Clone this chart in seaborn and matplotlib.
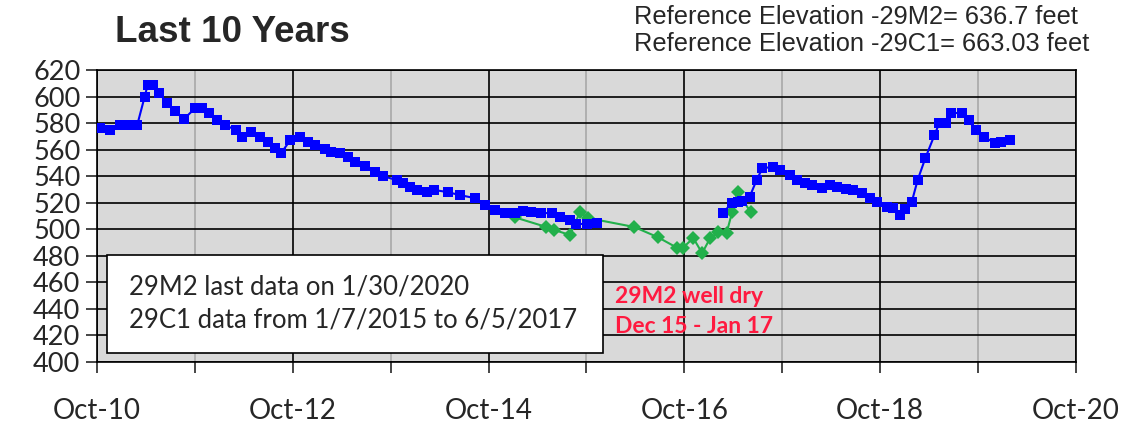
import pandas as pd
import numpy as np
import seaborn as sns
import matplotlib
matplotlib.use('Agg')
import matplotlib.pyplot as plt
import matplotlib.dates as mdates
from matplotlib.patches import Rectangle

# Well 29M2 readings (feet), gap while the well was dry
m2_dates = ['2010-10-11', '2010-11-18', '2010-12-25', '2011-01-21', '2011-02-28', '2011-03-28',
            '2011-04-08', '2011-04-27', '2011-05-22', '2011-06-18', '2011-07-18', '2011-08-21',
            '2011-10-01', '2011-10-28', '2011-11-22', '2011-12-22', '2012-01-21', '2012-03-01',
            '2012-03-24', '2012-04-27', '2012-05-31', '2012-06-30', '2012-07-25', '2012-08-18',
            '2012-09-21', '2012-10-28', '2012-11-27', '2012-12-22', '2013-01-28', '2013-02-21',
            '2013-03-25', '2013-04-24', '2013-05-19', '2013-06-27', '2013-08-02', '2013-09-03',
            '2013-10-24', '2013-11-16', '2013-12-12', '2014-01-06', '2014-02-14', '2014-03-13',
            '2014-05-01', '2014-06-15', '2014-08-10', '2014-09-17', '2014-10-24', '2014-12-01',
            '2015-01-07', '2015-02-06', '2015-03-10', '2015-04-16', '2015-05-24', '2015-06-23',
            '2015-08-01', '2015-08-25', '2015-10-02', '2015-11-09',
            '2017-02-22', '2017-03-26', '2017-04-17', '2017-05-02', '2017-06-01', '2017-06-27',
            '2017-07-19', '2017-08-27', '2017-09-22', '2017-10-28', '2017-11-24', '2017-12-24',
            '2018-01-19', '2018-02-26', '2018-03-27', '2018-04-25', '2018-05-28', '2018-06-21',
            '2018-07-24', '2018-08-24', '2018-09-19', '2018-10-25', '2018-11-18', '2018-12-13',
            '2019-01-01', '2019-01-27', '2019-02-18', '2019-03-19', '2019-04-22', '2019-05-10',
            '2019-06-03', '2019-06-24', '2019-08-01', '2019-08-28', '2019-09-22', '2019-10-25',
            '2019-12-02', '2019-12-28', '2020-01-30']
m2_level = [576, 575, 578.5, 578.5, 578.5, 600,
            608.7, 608.7, 602.7, 595, 589, 583,
            591, 591, 587.6, 582, 578.5, 575,
            569.5, 573, 569.5, 566, 561, 557.5,
            567, 569.5, 566, 563.5, 560.5, 558,
            557.5, 554.5, 550.7, 547.7, 543, 540,
            537, 535, 532, 529.6, 528, 529.6,
            528, 525.8, 523.5, 518.3, 514.5, 512.2,
            512.2, 513.7, 513, 512.2, 512.2, 509.2,
            507, 504, 504, 504.7,
            512.2, 519.8, 520.5, 521, 524.3, 537,
            546, 547, 544.6, 540.9, 537, 535,
            533.3, 531, 533.3, 532, 530, 529.6,
            527.3, 523.5, 520.5, 516.8, 516, 510.7,
            515, 520.5, 537, 553.7, 571, 580,
            580, 587.6, 587.6, 582, 574.8, 569.5,
            565, 565.7, 567]
m2_segment = [1] * 58 + [2] * 39

# Well 29C1 readings (feet)
c1_dates = ['2015-01-07', '2015-05-05', '2015-06-04', '2015-08-01', '2015-09-07', '2015-10-06',
            '2016-03-28', '2016-06-24', '2016-09-04', '2016-09-25', '2016-11-03', '2016-12-06',
            '2017-01-05', '2017-02-05', '2017-03-07', '2017-03-28', '2017-04-17', '2017-06-05']
c1_level = [509, 501.7, 499.4, 495.7, 513, 508.5,
            501.7, 494, 486, 486, 493.4, 482,
            493.4, 498, 497, 513, 528, 513]

m2 = pd.DataFrame({'date': pd.to_datetime(m2_dates), 'level': m2_level, 'seg': m2_segment})
c1 = pd.DataFrame({'date': pd.to_datetime(c1_dates), 'level': c1_level, 'seg': 1})

sns.set_style('ticks')
tick_font = 'Lato'

fig = plt.figure(figsize=(11.46, 4.22), dpi=100)
ax = fig.add_axes([97 / 1146, 1 - 362 / 422, 979 / 1146, 292 / 422])
ax.set_facecolor('#d9d9d9')

sns.lineplot(data=c1, x='date', y='level', units='seg', estimator=None, color='#22b04b',
             marker='D', markersize=7.5, markeredgewidth=0, linewidth=1.5, ax=ax, zorder=4)
sns.lineplot(data=m2, x='date', y='level', units='seg', estimator=None, color='#0000ff',
             marker='s', markersize=7.5, markeredgewidth=0, linewidth=1.5, ax=ax, zorder=5)

ax.set_xlim(pd.Timestamp('2010-10-01'), pd.Timestamp('2020-10-01'))
ax.set_ylim(400, 620)
ax.set_yticks(np.arange(400, 621, 20))
ax.xaxis.set_major_locator(mdates.YearLocator(base=2, month=10, day=1))
ax.xaxis.set_minor_locator(mdates.YearLocator(base=1, month=10, day=1))
ax.xaxis.set_major_formatter(mdates.DateFormatter('%b-%y'))
ax.set_xlabel('')
ax.set_ylabel('')

# grid: black horizontals and major verticals, light grey yearly verticals
ax.grid(True, axis='y', color='black', linewidth=1.2)
ax.grid(True, axis='x', which='major', color='black', linewidth=1.2)
ax.grid(True, axis='x', which='minor', color='#a8a8a8', linewidth=1.2)
ax.set_axisbelow(True)
for s in ax.spines.values():
    s.set_color('black')
    s.set_linewidth(1.2)

ax.tick_params(axis='y', direction='out', length=8, width=1.2, pad=4, labelsize=19.5)
ax.tick_params(axis='x', which='major', direction='out', length=8, width=1.2, pad=18, labelsize=20)
ax.tick_params(axis='x', which='minor', direction='out', length=8, width=1.2)
for lab in ax.get_xticklabels() + ax.get_yticklabels():
    lab.set_family(tick_font)

# note box
ax.add_patch(Rectangle((0.0102, 0.031), 0.507, 0.335, transform=ax.transAxes,
                       facecolor='white', edgecolor='black', linewidth=1.2, zorder=6))
ax.text(0.0327, 0.257, '29M2 last data on 1/30/2020', transform=ax.transAxes,
        fontsize=18.5, family=tick_font, va='center', zorder=7)
ax.text(0.0327, 0.144, '29C1 data from 1/7/2015 to 6/5/2017', transform=ax.transAxes,
        fontsize=18.5, family=tick_font, va='center', zorder=7)

ax.text(0.529, 0.223, '29M2 well dry', transform=ax.transAxes, color='#ff1a40',
        fontsize=16.5, family=tick_font, fontweight='bold', va='center', zorder=7)
ax.text(0.529, 0.120, 'Dec 15 - Jan 17', transform=ax.transAxes, color='#ff1a40',
        fontsize=16.5, family=tick_font, fontweight='bold', va='center', zorder=7)

fig.text(115 / 1146, 1 - 33 / 422, 'Last 10 Years', fontsize=26.5, fontweight='bold',
         family='Liberation Sans', va='center')
fig.text(634 / 1146, 1 - 17 / 422, 'Reference Elevation -29M2= 636.7 feet', fontsize=18.3,
         family='Liberation Sans', va='center')
fig.text(634 / 1146, 1 - 44 / 422, 'Reference Elevation -29C1= 663.03 feet', fontsize=18.3,
         family='Liberation Sans', va='center')

fig.savefig('out.png', dpi=100)
